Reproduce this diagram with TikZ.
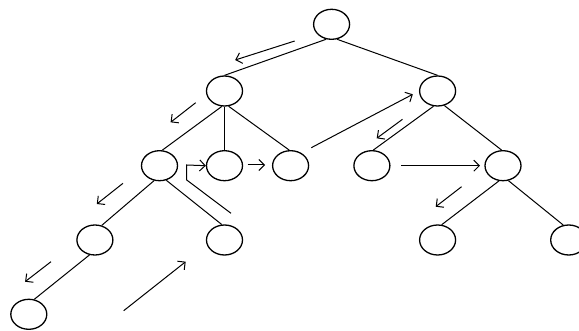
\documentclass[tikz,border=0pt]{standalone}
\usetikzlibrary{shapes.geometric,arrows.meta}
\begin{document}
\begin{tikzpicture}[x=1pt,y=-1pt,
  tn/.style={draw,ellipse,minimum width=36pt,minimum height=30pt,inner sep=0pt,line width=1.3pt},
  edge/.style={line width=1pt},
  trav/.style={line width=1pt,-{Straight Barb[length=5.5pt,width=11pt,line width=1pt]}}]
\clip (0,0) rectangle (579,331);
\useasboundingbox (0,0) rectangle (579,331);
% nodes
\node[tn] (root) at (331.6,24.3) {};
\node[tn] (L) at (224.5,91) {};
\node[tn] (R) at (437.6,91) {};
\node[tn] (A) at (159.5,165.7) {};
\node[tn] (B) at (224.5,165.7) {};
\node[tn] (C) at (290.6,165.7) {};
\node[tn] (D) at (371.9,165.7) {};
\node[tn] (E) at (503,165.7) {};
\node[tn] (F) at (94.9,240) {};
\node[tn] (G) at (224.5,240) {};
\node[tn] (H) at (437.6,240) {};
\node[tn] (I) at (568.7,240) {};
\node[tn] (J) at (28.8,314.3) {};
% tree edges
\draw[edge] (root.-110) -- (L.north);
\draw[edge] (root.-70) -- (R.north);
\draw[edge] (L.-100) -- (A.80);
\draw[edge] (L.south) -- (B.north);
\draw[edge] (L.-75) -- (C.95);
\draw[edge] (R.-105) -- (D.85);
\draw[edge] (R.-65) -- (E.95);
\draw[edge] (A.-110) -- (F.65);
\draw[edge] (A.-65) -- (G.100);
\draw[edge] (E.-105) -- (H.75);
\draw[edge] (E.-70) -- (I.110);
\draw[edge] (F.-110) -- (J.70);
% traversal arrows
\coordinate (a1s) at (294.7,41); \coordinate (a1e) at (235.2,60);
\coordinate (a2s) at (195.7,102.7); \coordinate (a2e) at (170.6,122.3);
\coordinate (a3s) at (123,183.3); \coordinate (a3e) at (96.8,204);
\coordinate (a4s) at (51,261.7); \coordinate (a4e) at (25.1,281.7);
\coordinate (a5s) at (123.7,310.7); \coordinate (a5e) at (185.7,261.7);
\coordinate (a6s) at (231,213.3); \coordinate (a6b) at (186.7,180); \coordinate (a6c) at (186.7,165);
\coordinate (a7s) at (247.7,165); \coordinate (a7e) at (265,165);
\coordinate (a8s) at (311.3,147.7); \coordinate (a8e) at (412.8,94.3);
\coordinate (a9s) at (402.5,119.3); \coordinate (a9e) at (376.7,138.3);
\coordinate (a10s) at (401.4,165.7); \coordinate (a10e) at (480,165.7);
\coordinate (a11s) at (461.6,186.7); \coordinate (a11e) at (435.7,206.7);
\draw[trav] (a1s) -- (a1e);
\draw[trav] (a2s) -- (a2e);
\draw[trav] (a3s) -- (a3e);
\draw[trav] (a4s) -- (a4e);
\draw[trav] (a5s) -- (a5e);
\draw[trav] (a6s) -- (a6b) -- (a6c) -- (B.west);
\draw[trav] (a7s) -- (a7e);
\draw[trav] (a8s) -- (a8e);
\draw[trav] (a9s) -- (a9e);
\draw[trav] (a10s) -- (a10e);
\draw[trav] (a11s) -- (a11e);
\end{tikzpicture}
\end{document}
